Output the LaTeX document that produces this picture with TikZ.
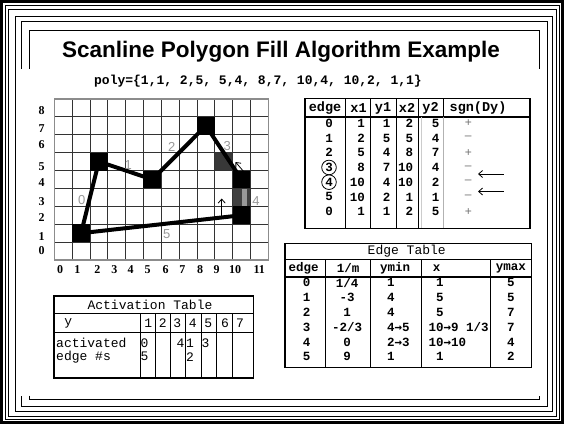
\documentclass[tikz,border=0pt]{standalone}
\usepackage{fontspec}
\setmainfont{Liberation Serif}
\newfontfamily\tsans{Liberation Sans}
\newfontfamily\tmono{Liberation Mono}
\newfontfamily\tarrowf{DejaVu Sans Mono}
\newcommand{\ar}{{\tarrowf\bfseries →}}
\usetikzlibrary{arrows.meta}
\begin{document}
\begin{tikzpicture}[x=1pt,y=-1pt,
  frm/.style={line width=1pt},
  gridln/.style={line width=0.7pt,black!80},
  gridbd/.style={line width=1.4pt,black!45},
  pedge/.style={line width=4pt},
  pix/.style={fill=black},
  elab/.style={font=\tsans\fontsize{13}{13}\selectfont,text=black!40,inner sep=0pt},
  axl/.style={font=\bfseries\fontsize{12}{12}\selectfont,inner sep=0pt},
  tb/.style={font=\tmono\bfseries\fontsize{12.5}{13}\selectfont,inner sep=0pt},
  th/.style={font=\tmono\bfseries\fontsize{13.5}{14}\selectfont,inner sep=0pt},
  tr/.style={font=\tmono\fontsize{13}{13}\selectfont,inner sep=0pt},
  tbord/.style={line width=1.3pt},
  tsep/.style={line width=2pt},
  tcol/.style={line width=0.9pt},
  sgn/.style={font=\tsans\fontsize{12}{12}\selectfont,text=black!55,inner sep=0pt},
  thinarr/.style={line width=0.8pt,-{Straight Barb[length=4pt,width=7pt]}},
]
\useasboundingbox (0,0) rectangle (564,424);
\fill[white] (0,0) rectangle (564,424);
% ---------- frames
\draw[line width=3pt] (1.5,1.5) rectangle (562.5,422.5);
\draw[frm] (5,5.5) rectangle (559,419.5);
\draw[frm] (8.5,9) rectangle (556.5,416.5);
\draw[frm] (15,16) rectangle (552,411);
\draw[frm] (21,69) -- (21,21) -- (547,21) -- (547,406) -- (21,406) -- (21,396);
\draw[frm] (29,69) -- (29,30) -- (539,30) -- (539,69);
\draw[frm] (29,395.5) -- (29,399) -- (539,399) -- (539,395.5);
% ---------- title
\node[font=\tsans\bfseries\fontsize{22.5}{24}\selectfont,anchor=base,inner sep=0pt] (title) at (281,57.5) {Scanline Polygon Fill Algorithm Example};
\node[font=\tmono\bfseries\fontsize{13}{13}\selectfont,anchor=base,inner sep=0pt] (poly) at (258,84) {poly=\{1,1, 2,5, 5,4, 8,7, 10,4, 10,2, 1,1\}};
% ---------- grid
\begin{scope}[shift={(54.3,260)},x=17.83pt,y=17.9pt]
 \fill[black!78] (9,5) rectangle (10,6);
 \fill[black!75] (10,3) rectangle (11,4);
 \fill[black!40] (10.55,3) rectangle (10.78,4);
 \foreach \i in {1,...,11} \draw[gridln] (\i,0) -- (\i,9);
 \foreach \j in {1,...,8} \draw[gridln] (0,\j) -- (12,\j);
 \draw[gridbd] (0,0) rectangle (12,9);
 \foreach \n/\i/\j in {a/1/1,b/2/5,c/5/4,d/8/7,e/10/4,f/10/2} {
   \fill[pix] (\i,\j) rectangle ++(1,1);
 }
 \coordinate (va) at (1.5,1.5);
 \coordinate (vb) at (2.5,5.5);
 \coordinate (vc) at (5.5,4.5);
 \coordinate (vd) at (8.5,7.5);
 \coordinate (ve) at (10.5,4.5);
 \coordinate (vf) at (10.5,2.5);
 \draw[pedge] (va) -- (vb);
 \draw[pedge] (vb) -- (vc);
 \draw[pedge] (vc) -- (vd);
 \draw[pedge] (vd) -- (ve);
 \draw[pedge] (vf) -- (va);
\end{scope}
% edge labels
\node[elab] (el0) at (81.7,200) {0};
\node[elab] (el1) at (128.3,165) {1};
\node[elab] (el2) at (171.7,146.7) {2};
\node[elab] (el3) at (227.3,145.7) {3};
\node[elab] (el4) at (256,201) {4};
\node[elab] (el5) at (166.7,234.3) {5};
% small arrows in grid
\coordinate (ga1) at (244.5,172.5);
\coordinate (ga2) at (235.5,162);
\draw[thinarr] (ga1) -- (ga2);
\coordinate (gb1) at (221.7,215.5);
\coordinate (gb2) at (221.7,198.5);
\draw[thinarr] (gb1) -- (gb2);
% axis labels
\foreach \t/\xx in {0/60,1/77.3,2/97.3,3/114.3,4/130.5,5/147.7,6/165.7,7/182.3,8/200,9/216.7,10/235,11/259.3}
  \node[axl] (xl\t) at (\xx,270) {\t};
\foreach \t/\yy in {8/111,7/129,6/145,5/167,4/183,3/202,2/218,1/237,0/251}
  \node[axl] (yl\t) at (41.7,\yy) {\t};
% ---------- top-right table
\draw[tbord] (305,98.3) rectangle (530,228.3);
\draw[tsep] (305,116.7) -- (530,116.7);
\foreach \x in {345,370,396,418.3} \draw[tcol] (\x,98.3) -- (\x,228.3);
\draw[tcol] (443.3,98.3) -- (443.3,116.7);
\draw[line width=0.9pt,black!30] (443.3,116.7) -- (443.3,228.3);
\draw[line width=0.9pt,black!20] (421,116.7) -- (421,228.3);
\node[th] (h1) at (325,108.3) {edge};
\node[th] (h2) at (358.5,108.3) {x1};
\node[th] (h3) at (383,108.3) {y1};
\node[th] (h4) at (407,108.3) {x2};
\node[th] (h5) at (430.5,108.3) {y2};
\node[th] (h6) at (478,108.3) {sgn(Dy)};
\foreach [count=\r from 0] \e/\a/\b/\c/\d/\s in {0/1/1/2/5/+,1/2/5/5/4/–,2/5/4/8/7/+,3/8/7/10/4/–,4/10/4/10/2/–,5/10/2/1/1/–,0/1/1/2/5/+} {
  \pgfmathsetmacro\yy{123.3+14.72*\r}
  \node[tb] (ae\r) at (329,\yy) {\e};
  \node[tb,anchor=east] (ax\r) at (365,\yy) {\a};
  \node[tb] (ay\r) at (386.7,\yy) {\b};
  \node[tb,anchor=east] (aX\r) at (413.3,\yy) {\c};
  \node[tb] (aY\r) at (435.7,\yy) {\d};
  \node[sgn] (as\r) at (468.3,\yy) {\s};
}
\draw[line width=0.8pt] (ae3.center) circle[radius=7.3pt];
\draw[line width=0.8pt] (ae4.center) circle[radius=7.3pt];
\coordinate (la1) at (503.5,174);
\coordinate (la2) at (478,174);
\draw[thinarr] (la1) -- (la2);
\coordinate (lb1) at (503.5,191.5);
\coordinate (lb2) at (478,191.5);
\draw[thinarr] (lb1) -- (lb2);
% ---------- Edge Table
\draw[tbord] (285,243.3) rectangle (531.7,367.3);
\draw[tcol] (285,259.3) -- (531.7,259.3);
\draw[tsep] (285,276.7) -- (531.7,276.7);
\foreach \x in {325,370.7,421.7,490} \draw[tcol] (\x,259.3) -- (\x,367.3);
\node[tr] (ett) at (406.7,251.5) {Edge Table};
\node[tb] (eh1) at (303.7,268.3) {edge};
\node[tb] (eh2) at (348,268.3) {1/m};
\node[tb] (eh3) at (395,268.3) {ymin};
\node[tb] (eh4) at (436.7,268.3) {x};
\node[tb] (eh5) at (510.8,268.3) {ymax};
\foreach [count=\r from 0] \e/\m/\ymin/\xl/\xx/\ymax in {0/1\slash 4/1/435.8/1/5,1/-3/4/435.8/5/5,2/1/4/435.8/5/7,3/-2\slash 3/4\ar 5/428.3/10\ar 9 1\slash 3/7,4/0/2\ar 3/428.3/10\ar 10/4,5/9/1/435.8/1/2} {
  \pgfmathsetmacro\yy{282.7+14.8*\r}
  \node[tb] (ee\r) at (306.7,\yy) {\e};
  \node[tb] (em\r) at (347,\yy) {\m};
  \node[tb,anchor=west] (en\r) at (387,\yy) {\ymin};
  \node[tb,anchor=west] (ex\r) at (\xl,\yy) {\xx};
  \node[tb] (eM\r) at (510.8,\yy) {\ymax};
}
% ---------- Activation Table
\draw[tbord] (54,296) rectangle (253.3,378);
\draw[tcol] (54,313.3) -- (253.3,313.3);
\draw[tcol] (54,332.7) -- (253.3,332.7);
\foreach \x in {140,155.7,170,185,201,216.7,232.3} \draw[tcol] (\x,313.3) -- (\x,378);
\node[tr] (att) at (150,305) {Activation Table};
\node[tr] (ahy) at (68.3,323.3) {y};
\foreach \t/\xx in {1/148.3,2/162.7,3/177.3,4/192.7,5/208.3,6/225,7/240}
  \node[tr] (ah\t) at (\xx,323.3) {\t};
\node[tr,anchor=west] (aact) at (56,343.3) {activated};
\node[tr,anchor=west] (aedg) at (56,356.7) {edge \#s};
\node[tr] (ad0) at (144.5,343.3) {0};
\node[tr] (ad5) at (144.5,356.7) {5};
\node[tr] (ad4) at (180.5,343.3) {4};
\node[tr] (ad1) at (190,343.3) {1};
\node[tr] (ad2) at (190,356.7) {2};
\node[tr] (ad3) at (205.5,343.3) {3};
\end{tikzpicture}
\end{document}
